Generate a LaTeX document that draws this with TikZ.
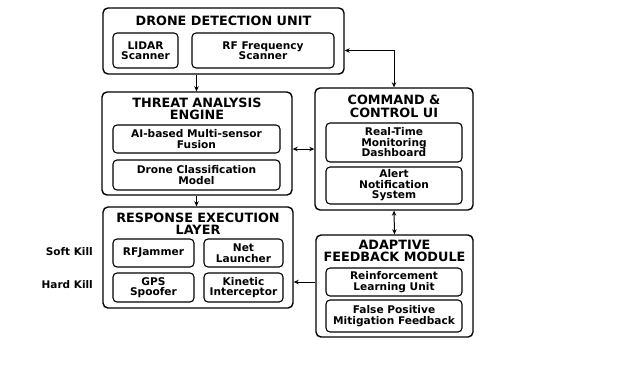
\documentclass[tikz,border=0pt]{standalone}
\usepackage{fontspec}
\setmainfont{DejaVu Sans}
\usetikzlibrary{arrows.meta, positioning}

\begin{document}
\begin{tikzpicture}[
    x=1pt, y=-1pt,
    outer/.style={draw, line width=1.4pt, rounded corners=5pt, inner sep=0pt},
    inner/.style={draw, line width=1.1pt, rounded corners=4pt, inner sep=0.5pt, align=center, font=\fontsize{10.6}{10.5}\selectfont\bfseries},
    title/.style={align=center, font=\fontsize{12.8}{12.5}\selectfont\bfseries, inner sep=0pt},
    side/.style={font=\fontsize{10.5}{11}\selectfont\bfseries, anchor=east, inner sep=0pt},
    >={Stealth[length=5pt, width=4.5pt]},
    every edge/.style={draw, line width=1pt}
]
\useasboundingbox[fill=white] (0,0) rectangle (624,368);

% Drone detection unit
\node[outer, minimum width=241pt, minimum height=66pt] (ddu) at (223.5,41) {};
\node[title] (dduT) at (223.5,21) {DRONE DETECTION UNIT};
\node[inner, minimum width=65pt, minimum height=35pt] (lidar) at (145.5,50.5) {LIDAR\\Scanner};
\node[inner, minimum width=142pt, minimum height=35pt] (rffreq) at (263,50.5) {RF Frequency\\Scanner};

% Threat analysis engine
\node[outer, minimum width=190pt, minimum height=103pt] (threat) at (197,143.5) {};
\node[title] (threatT) at (197,109) {THREAT ANALYSIS\\ENGINE};
\node[inner, minimum width=167pt, minimum height=28pt] (fusion) at (196.5,139) {AI-based Multi-sensor\\Fusion};
\node[inner, minimum width=167pt, minimum height=30pt] (classif) at (196.5,175) {Drone Classification\\Model};

% Response execution layer
\node[outer, minimum width=190pt, minimum height=101pt] (resp) at (198,257.5) {};
\node[title] (respT) at (198,223.5) {RESPONSE EXECUTION\\LAYER};
\node[inner, minimum width=81pt, minimum height=28pt] (jammer) at (153.5,253) {RFJammer};
\node[inner, minimum width=79pt, minimum height=28pt] (net) at (243.5,253) {Net\\Launcher};
\node[inner, minimum width=81pt, minimum height=29pt] (gps) at (153.5,287.5) {GPS\\Spoofer};
\node[inner, minimum width=79pt, minimum height=29pt] (kinetic) at (243.5,287.5) {Kinetic\\Interceptor};
\node[side] (soft) at (93,252) {Soft Kill};
\node[side] (hard) at (93,285) {Hard Kill};

% Command & control UI
\node[outer, minimum width=158pt, minimum height=122pt] (cmd) at (394,149) {};
\node[title] (cmdT) at (394,106.5) {COMMAND \&\\CONTROL UI};
\node[inner, minimum width=136pt, minimum height=39pt] (dash) at (394,142.5) {Real-Time\\Monitoring\\Dashboard};
\node[inner, minimum width=136pt, minimum height=37pt] (alert) at (394,185.5) {Alert\\Notification\\System};

% Adaptive feedback module
\node[outer, minimum width=157pt, minimum height=102pt] (adapt) at (394.5,286) {};
\node[title] (adaptT) at (394.5,251) {ADAPTIVE\\FEEDBACK MODULE};
\node[inner, minimum width=136pt, minimum height=28pt] (rl) at (394,282) {Reinforcement\\Learning Unit};
\node[inner, minimum width=136pt, minimum height=32pt] (fp) at (394,316) {False Positive\\Mitigation Feedback};

% connectors
\draw[->, line width=1pt] (ddu.south -| fusion) -- (threat.north -| fusion);
\draw[->, line width=1pt] (threat.south -| fusion) -- (resp.north -| fusion);
\draw[<->, line width=1pt] (ddu.east |- rffreq) -| (cmd.north);
\draw[<->, line width=1pt] (threat.east |- cmd) -- (cmd.west);
\draw[<->, line width=1pt] (cmd.south) -- (adapt.north);
\draw[->, line width=1pt] (adapt.west |- rl) -- (resp.east |- rl);

\end{tikzpicture}
\end{document}
